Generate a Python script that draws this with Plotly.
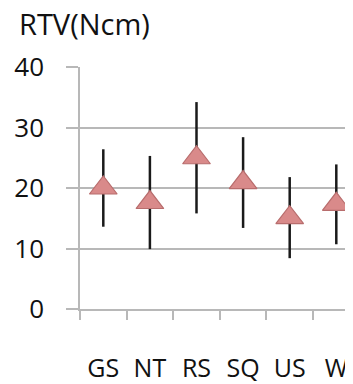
import plotly.graph_objects as go

categories = ["GS", "NT", "RS", "SQ", "US", "W"]
rtv_mean = [20.0, 17.6, 25.0, 20.9, 15.1, 17.3]
rtv_sd = [6.4, 7.7, 9.2, 7.5, 6.7, 6.6]
y_ticks = [0, 10, 20, 30, 40]

FONT = "Open Sans"
GRID = "#b8b8b8"
TXT = "#111111"

fig = go.Figure()
fig.add_trace(go.Scatter(
    x=categories, y=rtv_mean, mode="markers",
    marker=dict(symbol="triangle-up", size=24, color="#d98a8a",
                line=dict(color="#b86d6d", width=1.2)),
    error_y=dict(type="data", array=rtv_sd, visible=True,
                 color="#1a1a1a", thickness=2.5, width=0),
    showlegend=False,
))

fig.update_layout(
    width=353, height=384,
    margin=dict(l=72, r=0, t=59, b=83),
    plot_bgcolor="white", paper_bgcolor="white",
    font=dict(family=FONT, size=25, color=TXT),
    title=dict(text="RTV(Ncm)", xref="container", yref="container",
               x=11/353, xanchor="left", y=1 - 7/384, yanchor="top",
               pad=dict(l=0, t=0, b=0, r=0),
               font=dict(family=FONT, size=29, color=TXT)),
    xaxis=dict(type="category", range=[-0.5, 5.53], automargin=False,
               tickson="boundaries", ticks="outside", ticklen=9,
               tickcolor=GRID, tickwidth=1.5,
               showgrid=False, showline=True, linecolor=GRID, linewidth=1.5,
               ticklabelstandoff=36,
               tickfont=dict(family=FONT, size=25, color=TXT)),
    yaxis=dict(range=[0, 40], tickvals=y_ticks, ticks="outside", ticklen=12,
               automargin=False,
               tickcolor=GRID, tickwidth=1.5,
               showgrid=True, gridcolor=GRID, gridwidth=1.5,
               zeroline=False,
               showline=True, linecolor=GRID, linewidth=1.5,
               ticklabelstandoff=17,
               tickfont=dict(family=FONT, size=26, color=TXT)),
)

fig.write_html("out.html")
